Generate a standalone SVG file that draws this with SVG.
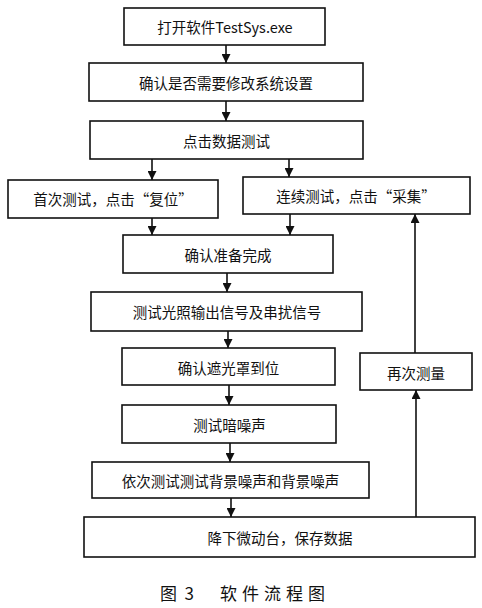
<svg xmlns="http://www.w3.org/2000/svg" width="482" height="608" viewBox="0 0 482 608">
<defs>
<marker id="ah" viewBox="0 0 10 10" refX="10" refY="5" markerWidth="9" markerHeight="9" markerUnits="userSpaceOnUse" orient="auto">
<path d="M0,0 L10,5 L0,10 Z" fill="#111"/>
</marker>
<style>
.box{fill:#fff;stroke:#111;stroke-width:1.6}
.t{font-family:"Noto Sans CJK SC","Liberation Serif",serif;font-size:14.5px;fill:#111;text-anchor:middle;dominant-baseline:central}
.c{stroke:#111;stroke-width:1.6;fill:none;marker-end:url(#ah)}
.cap{font-family:"Noto Sans CJK SC","Liberation Serif",serif;font-size:17px;fill:#111;dominant-baseline:central}
</style>
</defs>
<rect width="482" height="608" fill="#fff"/>
<g id="n1"><rect class="box" x="124" y="8" width="201" height="37"/><text class="t" x="225" y="26">打开软件TestSys.exe</text></g>
<g id="n2"><rect class="box" x="89" y="63" width="274" height="38"/><text class="t" x="226" y="82">确认是否需要修改系统设置</text></g>
<g id="n3"><rect class="box" x="90" y="121" width="273" height="38"/><text class="t" x="226.5" y="140">点击数据测试</text></g>
<g id="n4"><rect class="box" x="8" y="180" width="210" height="38"/><text class="t" x="113" y="198">首次测试，点击“复位”</text></g>
<g id="n5"><rect class="box" x="243" y="177" width="227" height="37"/><text class="t" x="356" y="195">连续测试，点击“采集”</text></g>
<g id="n6"><rect class="box" x="123" y="235" width="210" height="38"/><text class="t" x="228" y="254">确认准备完成</text></g>
<g id="n7"><rect class="box" x="91" y="292" width="271" height="39"/><text class="t" x="227" y="311.5">测试光照输出信号及串扰信号</text></g>
<g id="n8"><rect class="box" x="122" y="348" width="213" height="37"/><text class="t" x="228.5" y="367">确认遮光罩到位</text></g>
<g id="n9"><rect class="box" x="122" y="405" width="214" height="38"/><text class="t" x="229.5" y="424">测试暗噪声</text></g>
<g id="n10"><rect class="box" x="92" y="462" width="277" height="36"/><text class="t" x="230.5" y="480.5">依次测试测试背景噪声和背景噪声</text></g>
<g id="n11"><rect class="box" x="84" y="517" width="391" height="40"/><text class="t" x="280" y="537">降下微动台，保存数据</text></g>
<g id="n12"><rect class="box" x="360" y="353" width="112" height="37"/><text class="t" x="416" y="372">再次测量</text></g>
<g id="connectors">
<line class="c" x1="226" y1="45" x2="226" y2="63"/>
<line class="c" x1="226" y1="101" x2="226" y2="121"/>
<line class="c" x1="152" y1="159" x2="152" y2="180"/>
<line class="c" x1="289" y1="159" x2="289" y2="177"/>
<line class="c" x1="152" y1="218" x2="152" y2="235"/>
<line class="c" x1="290" y1="214" x2="290" y2="235"/>
<line class="c" x1="227" y1="273" x2="227" y2="292"/>
<line class="c" x1="228" y1="331" x2="228" y2="348"/>
<line class="c" x1="229" y1="385" x2="229" y2="405"/>
<line class="c" x1="230" y1="443" x2="230" y2="462"/>
<line class="c" x1="231" y1="498" x2="231" y2="517"/>
<line class="c" x1="416" y1="517" x2="416" y2="390"/>
<line class="c" x1="415" y1="353" x2="415" y2="214"/>
</g>
<text class="cap" x="160" y="592" xml:space="preserve">图  3</text>
<text class="cap" x="220" y="592" letter-spacing="5">软件流程图</text>
</svg>
